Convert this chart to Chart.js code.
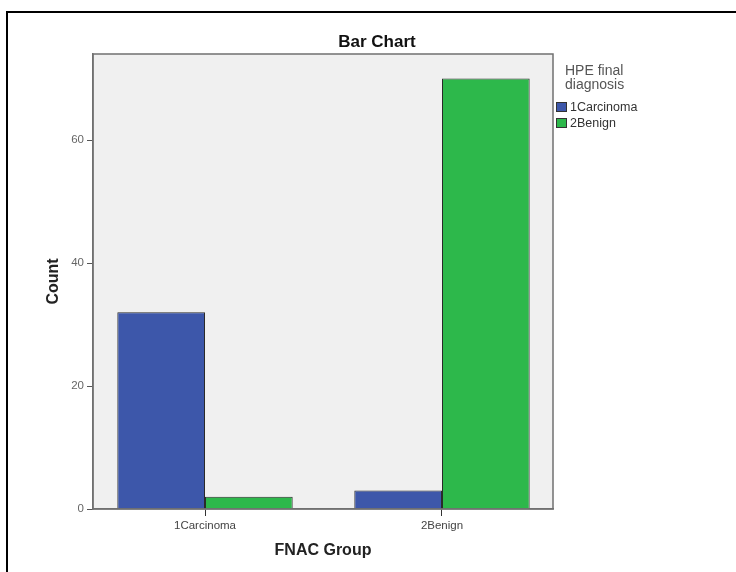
<!DOCTYPE html>
<html>
<head>
<meta charset="utf-8">
<script src="https://cdn.jsdelivr.net/npm/chart.js@4/dist/chart.umd.min.js"></script>
<style>
  html, body { margin: 0; padding: 0; background: #fff; }
  #wrap { position: relative; width: 736px; height: 572px; }
</style>
</head>
<body>
<div id="wrap"><canvas id="c" width="736" height="572"></canvas></div>
<script>
const categories = ["1Carcinoma", "2Benign"];
const seriesNames = ["1Carcinoma", "2Benign"];
const carcinomaCounts = [32, 3];
const benignCounts = [2, 70];
const yTicks = [0, 20, 40, 60];
const chartTitle = "Bar Chart";
const legendTitle = ["HPE final", "diagnosis"];
const xTitle = "FNAC Group";
const yTitle = "Count";

const FONT = "'Liberation Sans', Arial, sans-serif";

const framePlugin = {
  id: 'frame',
  beforeDraw(chart) {
    const {ctx, chartArea: a} = chart;
    ctx.save();
    ctx.fillStyle = '#f0f0f0';
    ctx.fillRect(a.left, a.top, a.right - a.left, a.bottom - a.top);
    ctx.fillStyle = '#000';
    ctx.fillRect(6, 11, 730, 2);
    ctx.fillRect(6, 11, 2, 561);
    ctx.restore();
  },
  afterDatasetsDraw(chart) {
    const {ctx, chartArea: a} = chart;
    ctx.save();
    ctx.strokeStyle = '#707070';
    ctx.lineWidth = 1.5;
    ctx.strokeRect(a.left, a.top, a.right - a.left, a.bottom - a.top);
    // title
    ctx.fillStyle = '#111';
    ctx.font = "bold 17px " + FONT;
    ctx.textAlign = 'center';
    ctx.textBaseline = 'middle';
    ctx.fillText(chartTitle, 377, 42);
    // legend
    ctx.textAlign = 'left';
    ctx.fillStyle = '#555';
    ctx.font = "14px " + FONT;
    legendTitle.forEach((t, i) => ctx.fillText(t, 565, 71 + i * 14));
    ctx.font = "12.5px " + FONT;
    chart.data.datasets.forEach((ds, i) => {
      const y = 102 + i * 16;
      ctx.fillStyle = ds.backgroundColor;
      ctx.fillRect(556, y, 11, 10);
      ctx.strokeStyle = '#333';
      ctx.lineWidth = 1;
      ctx.strokeRect(556.5, y + 0.5, 10, 9);
      ctx.fillStyle = '#333';
      ctx.fillText(ds.label, 570, y + 5.5);
    });
    ctx.restore();
  }
};

new Chart(document.getElementById('c'), {
  type: 'bar',
  data: {
    labels: categories,
    datasets: [
      { label: seriesNames[0], data: carcinomaCounts, backgroundColor: '#3d57aa', borderColor: '#2a2a2a', borderWidth: 1 },
      { label: seriesNames[1], data: benignCounts, backgroundColor: '#2db84b', borderColor: '#2a2a2a', borderWidth: 1 }
    ]
  },
  options: {
    responsive: false,
    animation: false,
    events: [],
    layout: { padding: { left: 0, top: 54, right: 183, bottom: 0 } },
    datasets: { bar: { categoryPercentage: 0.74, barPercentage: 1.0 } },
    plugins: { legend: { display: false }, title: { display: false }, tooltip: { enabled: false } },
    scales: {
      x: {
        offset: false,
        afterFit(s) { s.height = 63; },
        afterBuildTicks(s) {
          // category centres sit ~0.473 category-widths in from each frame edge
          s._startValue = -0.4726;
          s._valueRange = 1.941;
        },
        grid: { drawOnChartArea: false, offset: false, drawTicks: true, tickLength: 7, color: '#333', lineWidth: 1 },
        border: { display: true, color: '#707070', width: 1.5 },
        ticks: { color: '#444', font: { family: FONT, size: 11.5 }, padding: 3, maxRotation: 0 },
        title: { display: true, text: xTitle, color: '#222', font: { family: FONT, size: 16, weight: 'bold' }, padding: { top: 0, bottom: 11.5 } }
      },
      y: {
        min: 0,
        max: 74,
        afterFit(s) { s.width = 93; },
        afterBuildTicks(s) { s.ticks = yTicks.map(v => ({ value: v })); },
        grid: { drawOnChartArea: false, drawTicks: true, tickLength: 6, color: '#555', lineWidth: 1 },
        border: { display: true, color: '#707070', width: 1.5 },
        ticks: { color: '#666', font: { family: FONT, size: 11.5 }, padding: 3 },
        title: { display: true, text: yTitle, color: '#222', font: { family: FONT, size: 16, weight: 'bold' }, padding: { top: 43.5, bottom: 0 } }
      }
    }
  },
  plugins: [framePlugin]
});
</script>
</body>
</html>
